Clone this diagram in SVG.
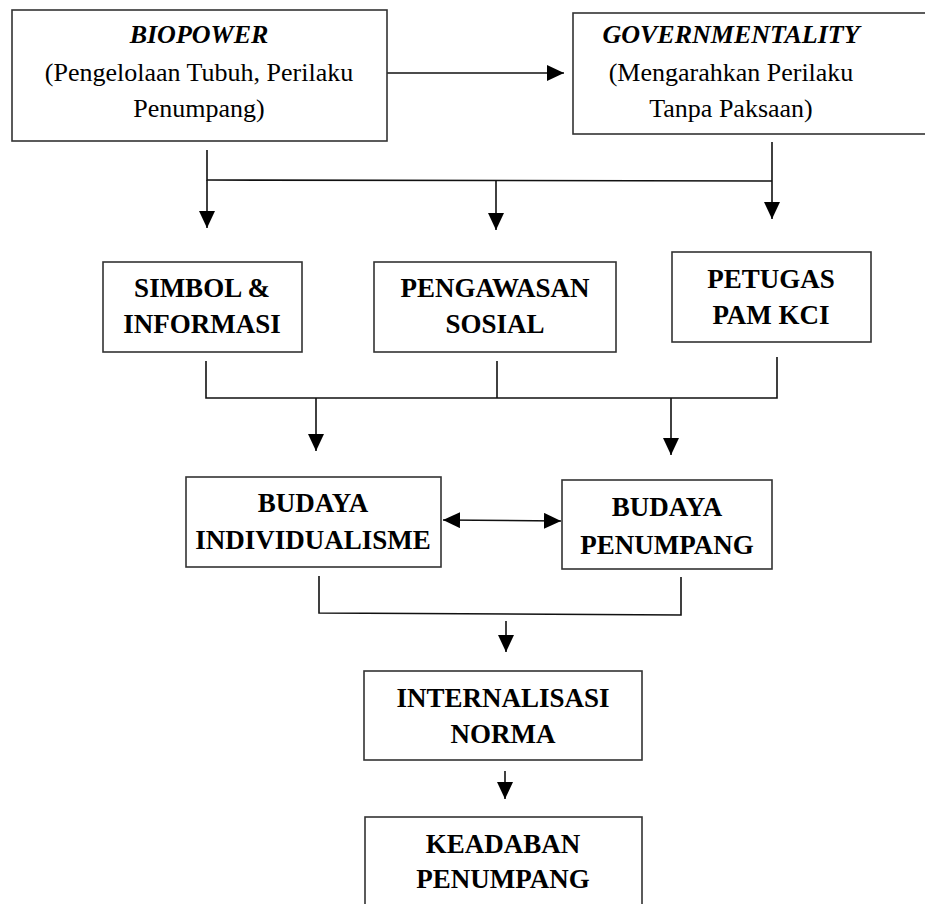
<svg xmlns="http://www.w3.org/2000/svg" width="925" height="904" viewBox="0 0 925 904">
<style>
.box{fill:#fff;stroke:#333;stroke-width:1.6}
.t{font-family:"Liberation Serif","Times New Roman",serif;font-size:26px;fill:#000;text-anchor:middle}
.b{font-weight:bold;font-size:27px}
.bi{font-weight:bold;font-style:italic}
.c{fill:none;stroke:#111;stroke-width:1.6}
</style>
<defs>
<marker id="ah" markerUnits="userSpaceOnUse" markerWidth="18" markerHeight="16" refX="17" refY="8" orient="auto-start-reverse">
<path d="M0,0 L17,8 L0,16 Z" fill="#000"/>
</marker>
</defs>
<rect width="925" height="904" fill="#fff"/>
<g id="connectors">
<line class="c" x1="387" y1="73" x2="564" y2="73" marker-end="url(#ah)"/>
<polyline class="c" points="207,150 207,180 772,181"/>
<line class="c" x1="207" y1="180" x2="207" y2="228" marker-end="url(#ah)"/>
<line class="c" x1="496" y1="180" x2="496" y2="230" marker-end="url(#ah)"/>
<line class="c" x1="772" y1="142" x2="772" y2="219" marker-end="url(#ah)"/>
<polyline class="c" points="206,361 206,398 777,398 777,357"/>
<line class="c" x1="497" y1="361" x2="497" y2="398"/>
<line class="c" x1="316" y1="398" x2="316" y2="451" marker-end="url(#ah)"/>
<line class="c" x1="671" y1="398" x2="671" y2="455" marker-end="url(#ah)"/>
<line class="c" x1="443" y1="520" x2="561" y2="521" marker-start="url(#ah)" marker-end="url(#ah)"/>
<polyline class="c" points="319,576 319,613 681,615 681,577"/>
<line class="c" x1="506" y1="621" x2="506" y2="652" marker-end="url(#ah)"/>
<line class="c" x1="505" y1="771" x2="505" y2="799" marker-end="url(#ah)"/>
</g>
<g id="biopower">
<rect class="box" x="12" y="10" width="375" height="131"/>
<text class="t bi" x="199" y="43">BIOPOWER</text>
<text class="t" x="199" y="81">(Pengelolaan Tubuh, Perilaku</text>
<text class="t" x="199" y="117">Penumpang)</text>
</g>
<g id="governmentality">
<rect class="box" x="573" y="13" width="360" height="121"/>
<text class="t bi" x="731" y="43">GOVERNMENTALITY</text>
<text class="t" x="731" y="81">(Mengarahkan Perilaku</text>
<text class="t" x="731" y="117">Tanpa Paksaan)</text>
</g>
<g id="simbol">
<rect class="box" x="103" y="262" width="199" height="90"/>
<text class="t b" x="202" y="297">SIMBOL &amp;</text>
<text class="t b" x="202" y="333">INFORMASI</text>
</g>
<g id="pengawasan">
<rect class="box" x="374" y="262" width="242" height="90"/>
<text class="t b" x="495" y="297">PENGAWASAN</text>
<text class="t b" x="495" y="333">SOSIAL</text>
</g>
<g id="petugas">
<rect class="box" x="672" y="252" width="199" height="90"/>
<text class="t b" x="771" y="288">PETUGAS</text>
<text class="t b" x="771" y="324">PAM KCI</text>
</g>
<g id="budaya-individualisme">
<rect class="box" x="186" y="477" width="255" height="90"/>
<text class="t b" x="313" y="512">BUDAYA</text>
<text class="t b" x="313" y="549">INDIVIDUALISME</text>
</g>
<g id="budaya-penumpang">
<rect class="box" x="562" y="480" width="210" height="89"/>
<text class="t b" x="667" y="516">BUDAYA</text>
<text class="t b" x="667" y="554">PENUMPANG</text>
</g>
<g id="internalisasi">
<rect class="box" x="364" y="671" width="278" height="89"/>
<text class="t b" x="503" y="707">INTERNALISASI</text>
<text class="t b" x="503" y="743">NORMA</text>
</g>
<g id="keadaban">
<rect class="box" x="365" y="817" width="277" height="100"/>
<text class="t b" x="503" y="853">KEADABAN</text>
<text class="t b" x="503" y="888">PENUMPANG</text>
</g>
</svg>
